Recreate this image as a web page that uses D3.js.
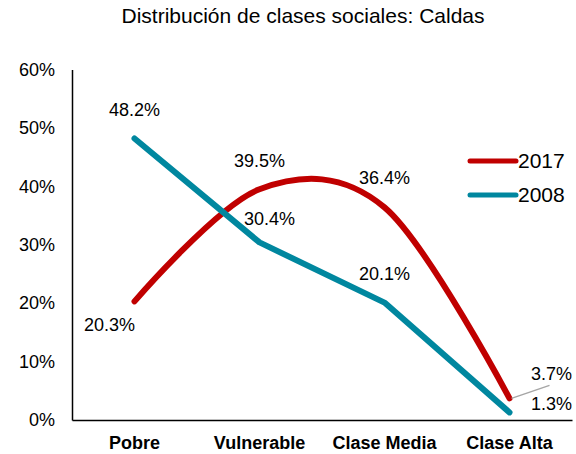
<!DOCTYPE html>
<html>
<head>
<meta charset="utf-8">
<script src="https://cdn.jsdelivr.net/npm/d3@7"></script>
<style>
  body { margin: 0; background: #fff; }
  text { font-family: Arial, "Liberation Sans", sans-serif; fill: #000; }
</style>
</head>
<body>
<div id="main"></div>
<script>
var categories = ["Pobre", "Vulnerable", "Clase Media", "Clase Alta"]
var values2017 = [0.203, 0.395, 0.364, 0.037]
var values2008 = [0.482, 0.304, 0.201, 0.013]
var yTicks = [0, 0.1, 0.2, 0.3, 0.4, 0.5, 0.6]

var w = 576, h = 454
var red = "#C00000", teal = "#00879F"

var svg = d3.select("#main").append("svg")
	.attr("width", w)
	.attr("height", h)

// Title
svg.append("text")
	.attr("x", 303)
	.attr("y", 23)
	.attr("text-anchor", "middle")
	.attr("font-size", "21px")
	.text("Distribución de clases sociales: Caldas")

// Scales
var x = d3.scaleBand().domain(categories).range([72, 572]).padding(0)
var y = d3.scaleLinear().domain([0, 0.6]).range([420, 69.5])
var cx = function(d) { return x(d) + x.bandwidth() / 2 }

// Axes
var yAxis = svg.append("g")
	.attr("transform", "translate(72,0)")
	.call(d3.axisLeft(y).tickValues(yTicks).tickSize(0).tickPadding(17).tickFormat(d3.format(".0%")))
yAxis.select(".domain").attr("stroke", "#000").attr("stroke-width", 1.5)
yAxis.selectAll("text").attr("font-size", "18px").attr("font-family", "Arial, 'Liberation Sans', sans-serif")

var xAxis = svg.append("g")
	.attr("transform", "translate(0,420)")
	.call(d3.axisBottom(x).tickSize(0).tickPadding(16))
xAxis.select(".domain").attr("stroke", "#000").attr("stroke-width", 1.5)
xAxis.selectAll("text").attr("font-size", "18px").attr("font-weight", "bold").attr("font-family", "Arial, 'Liberation Sans', sans-serif")

// Lines
var smooth = d3.line()
	.x(function(d, i) { return cx(categories[i]) })
	.y(function(d) { return y(d) })
	.curve(d3.curveCardinal.tension(0))
var straight = d3.line()
	.x(function(d, i) { return cx(categories[i]) })
	.y(function(d) { return y(d) })

svg.append("path")
	.attr("d", smooth(values2017))
	.attr("fill", "none")
	.attr("stroke", red)
	.attr("stroke-width", 6)
	.attr("stroke-linecap", "round")
	.attr("stroke-linejoin", "round")

svg.append("path")
	.attr("d", straight(values2008))
	.attr("fill", "none")
	.attr("stroke", teal)
	.attr("stroke-width", 6)
	.attr("stroke-linecap", "round")
	.attr("stroke-linejoin", "round")

// Data labels (offsets relative to each point)
var off2017 = [[-25, 30], [0, -22], [0, -23], [42, -18]]
var off2008 = [[0, -22], [10, -17], [0, -23], [42, -2]]
var fmt = d3.format(".1%")

function drawLabels(vals, offs) {
	svg.selectAll(null)
		.data(vals)
		.enter().append("text")
		.attr("x", function(d, i) { return cx(categories[i]) + offs[i][0] })
		.attr("y", function(d, i) { return y(d) + offs[i][1] })
		.attr("text-anchor", "middle")
		.attr("font-size", "18px")
		.text(function(d) { return fmt(d) })
}
drawLabels(values2017, off2017)
drawLabels(values2008, off2008)

// leader line for 3.7%
svg.append("line")
	.attr("x1", cx("Clase Alta") + 2)
	.attr("y1", y(values2017[3]))
	.attr("x2", cx("Clase Alta") + 40)
	.attr("y2", y(values2017[3]) - 13)
	.attr("stroke", "#A6A6A6")
	.attr("stroke-width", 1.5)

// Legend
var legend = [["2017", red], ["2008", teal]]
var lg = svg.selectAll(".legend")
	.data(legend)
	.enter().append("g")
	.attr("class", "legend")
	.attr("transform", function(d, i) { return "translate(470," + (161 + i * 34) + ")" })
lg.append("line")
	.attr("x1", 0).attr("x2", 46)
	.attr("stroke", function(d) { return d[1] })
	.attr("stroke-width", 5)
	.attr("stroke-linecap", "round")
lg.append("text")
	.attr("x", 48)
	.attr("y", 7)
	.attr("font-size", "21px")
	.text(function(d) { return d[0] })
</script>
</body>
</html>
